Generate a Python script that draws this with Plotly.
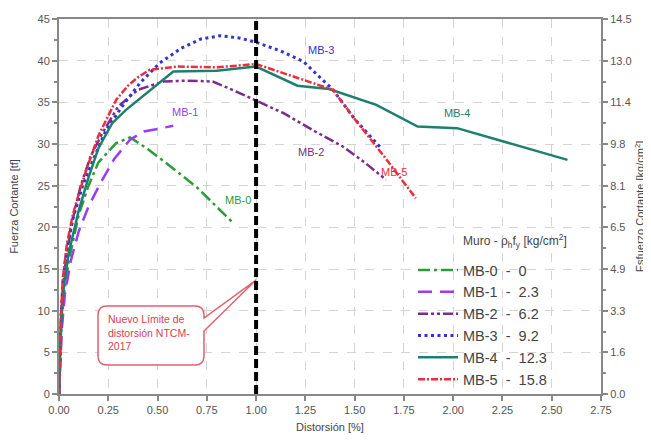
import plotly.graph_objects as go

# ---------------- data ----------------
mb0_x = [0, 0.005, 0.012, 0.025, 0.05, 0.1, 0.15, 0.2, 0.29, 0.36, 0.45, 0.55, 0.7, 0.88]
mb0_y = [0, 4, 8, 12, 16, 21.5, 25, 27.8, 30.1, 30.8, 29.4, 27.6, 24.8, 20.6]

mb1_x = [0, 0.006, 0.015, 0.03, 0.06, 0.1, 0.15, 0.21, 0.28, 0.36, 0.43, 0.5, 0.58]
mb1_y = [0, 4, 8, 12, 16, 19.5, 22.5, 25.3, 28.2, 30.5, 31.5, 31.8, 32.2]

mb2_x = [0, 0.005, 0.01, 0.02, 0.04, 0.07, 0.11, 0.16, 0.22, 0.3, 0.4, 0.53, 0.65, 0.78, 0.88, 1.0, 1.14, 1.3, 1.44, 1.55, 1.66]
mb2_y = [0, 5, 9, 13, 17, 21, 25, 28.5, 31.3, 34.5, 36.5, 37.5, 37.6, 37.5, 36.5, 35.2, 33.7, 31.5, 29.7, 27.8, 25.7]

mb3_x = [0, 0.005, 0.01, 0.02, 0.04, 0.07, 0.12, 0.18, 0.24, 0.32, 0.41, 0.51, 0.62, 0.72, 0.82, 0.92, 1.0, 1.12, 1.24, 1.39, 1.5, 1.63]
mb3_y = [0, 5, 9, 13.5, 17.5, 21, 25, 28.5, 31.7, 34.5, 37.3, 39.7, 41.5, 42.6, 43.0, 42.7, 42.2, 41.2, 39.9, 36.5, 33.0, 29.6]

mb4_x = [0, 0.005, 0.012, 0.025, 0.05, 0.1, 0.15, 0.2, 0.27, 0.34, 0.44, 0.58, 0.8, 1.0, 1.21, 1.37, 1.61, 1.82, 2.02, 2.58]
mb4_y = [0, 5, 9, 13, 17, 22, 26, 29.5, 32.5, 34.1, 36.0, 38.7, 38.8, 39.3, 37.0, 36.6, 34.7, 32.1, 31.9, 28.1]

mb5_x = [0, 0.005, 0.01, 0.02, 0.04, 0.07, 0.1, 0.14, 0.2, 0.29, 0.35, 0.4, 0.46, 0.6, 0.8, 1.0, 1.2, 1.39, 1.5, 1.65, 1.81]
mb5_y = [0, 5, 9.5, 14, 18, 21.5, 24, 27, 31, 35.3, 37, 38, 38.9, 39.3, 39.2, 39.6, 38.0, 36.5, 33.0, 28.5, 23.5]

series_names = ["MB-0  -  0", "MB-1  -  2.3", "MB-2  -  6.2", "MB-3  -  9.2", "MB-4  -  12.3", "MB-5  -  15.8"]
series_labels = ["MB-0", "MB-1", "MB-2", "MB-3", "MB-4", "MB-5"]
label_x = [0.91, 0.64, 1.28, 1.33, 2.02, 1.70]
label_y = [23.3, 33.9, 29.1, 41.3, 33.7, 26.6]

left_ticks = [0, 5, 10, 15, 20, 25, 30, 35, 40, 45]
right_tick_text = ["0.0", "1.6", "3.3", "4.9", "6.5", "8.1", "9.8", "11.4", "13.0", "14.5"]
x_ticks = [0, 0.25, 0.5, 0.75, 1.0, 1.25, 1.5, 1.75, 2.0, 2.25, 2.5, 2.75]
limit_x = 1.0

# ---------------- styles ----------------
colors = ["#2e9a3a", "#9a3cf0", "#7a2d8e", "#3232d8", "#1f7f6e", "#e8303c"]
dashes = ["12px,4px,3px,4px", "14px,8px", "10px,3px,3px,3px,3px,3px", "3px,3.5px", "solid", "7px,2px,2px,2px"]
widths = [2.5, 2.5, 2.5, 3, 2.5, 2.5]

FONT = "Arial, Liberation Sans, sans-serif"

fig = go.Figure()
xs = [mb0_x, mb1_x, mb2_x, mb3_x, mb4_x, mb5_x]
ys = [mb0_y, mb1_y, mb2_y, mb3_y, mb4_y, mb5_y]
for i in range(6):
    fig.add_trace(go.Scatter(x=xs[i], y=ys[i], mode="lines", name=series_names[i],
                             line=dict(color=colors[i], dash=dashes[i], width=widths[i])))

# invisible trace to activate right axis
fig.add_trace(go.Scatter(x=[0], y=[0], yaxis="y2", mode="markers", marker=dict(opacity=0),
                         showlegend=False, hoverinfo="skip"))

# ---------------- layout helpers ----------------
# page body has an 8px margin; plot-area edges given in screen pixels
OFF = 8
W, H = 651 - OFF, 447 - OFF
PL, PR, PT, PB = 59, 601, 19, 394
XR = (0, 2.75)
YR = (0, 45)
pw, ph = PR - PL, PB - PT


def px2x(p):
    return XR[0] + (p - PL) / pw * (XR[1] - XR[0])


def px2y(p):
    return YR[0] + (PB - p) / ph * (YR[1] - YR[0])


# speech bubble path (pixel design converted to data coords)
bl, br, bt, bb, r = 98, 204, 306, 365, 9
tip = (256, 280)
path = (f"M {px2x(bl+r)},{px2y(bt)} L {px2x(br-r)},{px2y(bt)} "
        f"Q {px2x(br)},{px2y(bt)} {px2x(br)},{px2y(bt+r)} "
        f"L {px2x(br)},{px2y(318)} L {px2x(tip[0])},{px2y(tip[1])} L {px2x(br)},{px2y(331)} "
        f"L {px2x(br)},{px2y(bb-r)} Q {px2x(br)},{px2y(bb)} {px2x(br-r)},{px2y(bb)} "
        f"L {px2x(bl+r)},{px2y(bb)} Q {px2x(bl)},{px2y(bb)} {px2x(bl)},{px2y(bb-r)} "
        f"L {px2x(bl)},{px2y(bt+r)} Q {px2x(bl)},{px2y(bt)} {px2x(bl+r)},{px2y(bt)} Z")

shapes = [
    dict(type="path", path=path, xref="x", yref="y", line=dict(color="#e06070", width=1.5),
         fillcolor="white", layer="above"),
    dict(type="line", x0=limit_x, x1=limit_x, y0=YR[0], y1=YR[1], xref="x", yref="y",
         line=dict(color="black", width=4, dash="9px,4px"), layer="above"),
]

annotations = [
    dict(x=px2x(106), y=px2y(311), xref="x", yref="y", xanchor="left", yanchor="top", align="left",
         text="Nuevo Límite de<br>distorsión NTCM-<br>2017", showarrow=False,
         font=dict(family=FONT, size=10.5, color="#d84050")),
    dict(x=px2x(515), y=px2y(241), xref="x", yref="y", xanchor="center", yanchor="middle",
         text="Muro - ρ<sub>h</sub>f<sub>y</sub> [kg/cm<sup>2</sup>]", showarrow=False,
         font=dict(family=FONT, size=12, color="#444")),
]
for i in range(6):
    annotations.append(dict(x=label_x[i], y=label_y[i], xref="x", yref="y", text=series_labels[i],
                            showarrow=False, font=dict(family=FONT, size=11, color=colors[i])))

axis_common = dict(showline=True, linecolor="#888", linewidth=2, ticks="outside", ticklen=5,
                   tickcolor="#888", tickwidth=1.5, zeroline=False, automargin=False,
                   tickfont=dict(size=11, color="#555"))

fig.update_layout(
    width=W, height=H,
    margin=dict(l=PL - OFF, r=W - (PR - OFF), t=PT - OFF, b=H - (PB - OFF)),
    paper_bgcolor="white", plot_bgcolor="white",
    font=dict(family=FONT, size=11, color="#444"),
    shapes=shapes, annotations=annotations,
    xaxis=dict(range=list(XR), tickvals=x_ticks, ticktext=[f"{v:.2f}" for v in x_ticks],
               showgrid=True, gridcolor="#d4d4d4", griddash="dash", gridwidth=1, mirror=True,
               title=dict(text="Distorsión [%]", font=dict(size=11, color="#444"), standoff=8),
               **axis_common),
    yaxis=dict(range=list(YR), tickvals=left_ticks, showgrid=True, gridcolor="#d4d4d4",
               griddash="dash", gridwidth=1,
               minor=dict(ticks="outside", ticklen=3, dtick=2.5, tickcolor="#888", showgrid=False),
               title=dict(text="Fuerza Cortante [tf]", font=dict(size=11, color="#444"), standoff=30),
               **axis_common),
    yaxis2=dict(range=list(YR), overlaying="y", side="right", tickvals=left_ticks,
                ticktext=right_tick_text, showgrid=False,
                minor=dict(ticks="outside", ticklen=3, dtick=2.5, tickcolor="#888", showgrid=False),
                title=dict(text="Esfuerzo Cortante [kg/cm<sup>2</sup>]", font=dict(size=11, color="#444"),
                           standoff=6),
                **axis_common),
    legend=dict(x=(413 - PL) / pw, y=(PB - 254) / ph, xanchor="left", yanchor="top",
                bgcolor="rgba(255,255,255,0)", borderwidth=0,
                font=dict(family=FONT, size=14.5, color="#444"),
                tracegroupgap=0, itemwidth=40),
    showlegend=True,
)

fig.write_html("out.html")
